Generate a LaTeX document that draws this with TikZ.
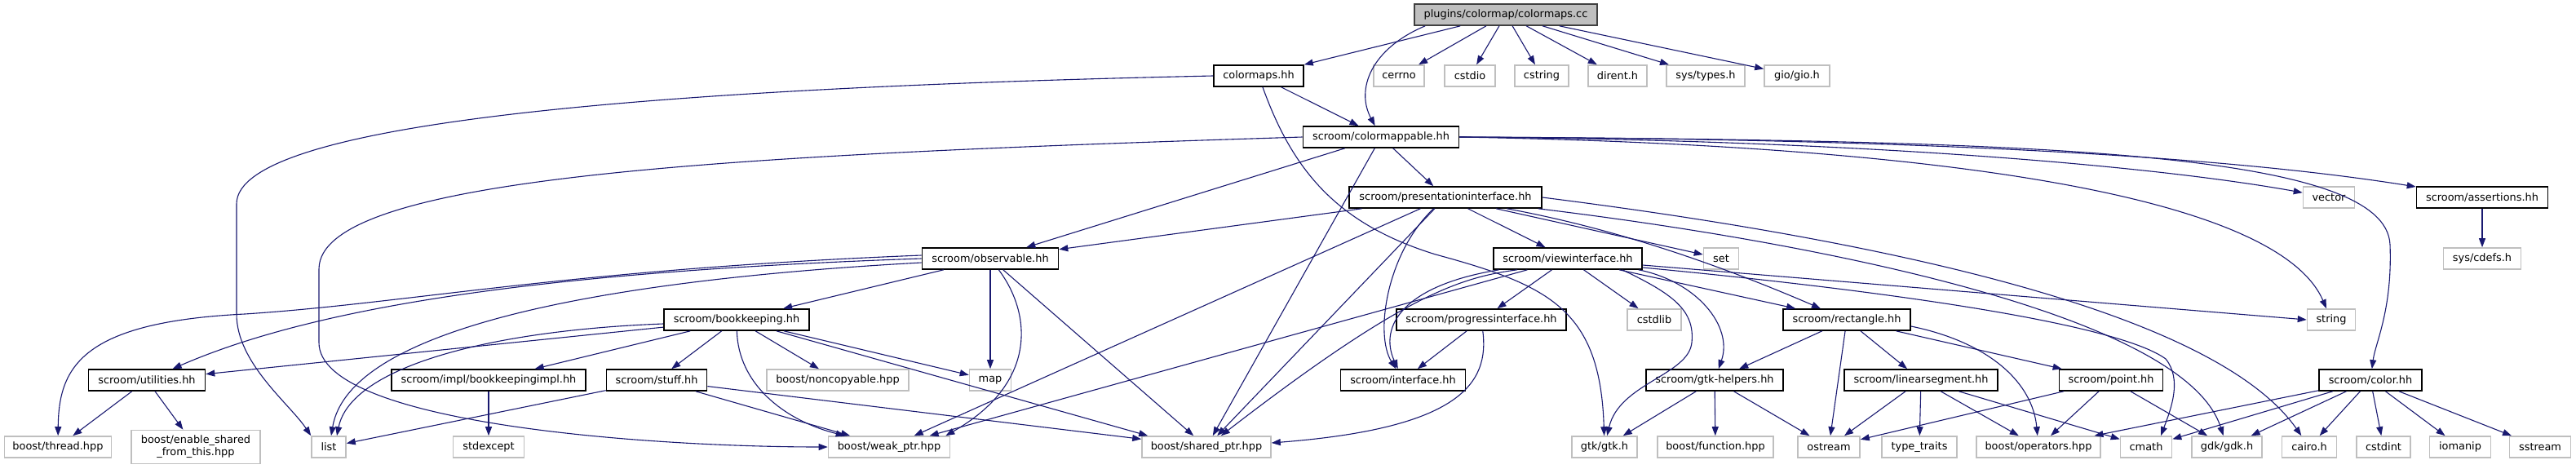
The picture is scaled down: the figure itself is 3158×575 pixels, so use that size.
\documentclass[tikz,border=0pt]{standalone}
\usepackage{fontspec}
\setmainfont{DejaVu Sans}
\usetikzlibrary{arrows.meta}

\definecolor{edgeblue}{HTML}{191970}
\definecolor{extgray}{HTML}{BFBFBF}
\definecolor{rootframe}{HTML}{404040}

\begin{document}
\begin{tikzpicture}[
    x=1pt, y=-1pt,
    hdr/.style={
        rectangle,
        draw=black,
        fill=white,
        line width=1.6pt,
        minimum height=26pt,
        inner sep=0pt,
        align=center,
        font=\fontsize{12.9}{15}\selectfont
    },
    sysinc/.style={
        hdr,
        draw=extgray
    },
    rootbox/.style={
        hdr,
        fill=extgray,
        draw=rootframe
    },
    inc/.style={
        -{Triangle[length=11pt,width=8pt]},
        draw=edgeblue,
        line width=1.1pt
    }
]
\useasboundingbox (0,0) rectangle (3158,575);

% Rows of the include graph
\node[rootbox, minimum width=224pt] (root) at (1846,18) {plugins/colormap/colormaps.cc};

\node[hdr, minimum width=110pt] (cmaps) at (1543,93) {colormaps.hh};
\node[sysinc, minimum width=62pt] (cerrno) at (1715,93) {cerrno};
\node[sysinc, minimum width=62pt] (cstdio) at (1802,93) {cstdio};
\node[sysinc, minimum width=66pt] (cstring) at (1890,93) {cstring};
\node[sysinc, minimum width=72pt] (dirent) at (1983,93) {dirent.h};
\node[sysinc, minimum width=96pt] (systypes) at (2091,93) {sys/types.h};
\node[sysinc, minimum width=80pt] (gio) at (2203,93) {gio/gio.h};

\node[hdr, minimum width=191pt] (cmappable) at (1693,168) {scroom/colormappable.hh};

\node[hdr, minimum width=236pt] (pres) at (1772,242) {scroom/presentationinterface.hh};
\node[sysinc, minimum width=63pt] (vector) at (2855,242) {vector};
\node[hdr, minimum width=161pt] (assert) at (3043,242) {scroom/assertions.hh};

\node[hdr, minimum width=167pt] (observ) at (1214,317) {scroom/observable.hh};
\node[hdr, minimum width=182pt] (view) at (1922,317) {scroom/viewinterface.hh};
\node[sysinc, minimum width=43pt] (set) at (2110,317) {set};
\node[sysinc, minimum width=95pt] (cdefs) at (3043,317) {sys/cdefs.h};

\node[hdr, minimum width=178pt] (bookk) at (903,392) {scroom/bookkeeping.hh};
\node[hdr, minimum width=208pt] (progress) at (1816,392) {scroom/progressinterface.hh};
\node[sysinc, minimum width=66pt] (cstdlib) at (2028,392) {cstdlib};
\node[hdr, minimum width=156pt] (rect) at (2264,392) {scroom/rectangle.hh};
\node[sysinc, minimum width=59pt] (string) at (2858,392) {string};

\node[hdr, minimum width=143pt] (util) at (180,466) {scroom/utilities.hh};
\node[hdr, minimum width=238pt] (bkimpl) at (599,466) {scroom/impl/bookkeepingimpl.hh};
\node[hdr, minimum width=123pt] (stuff) at (805,466) {scroom/stuff.hh};
\node[sysinc, minimum width=174pt] (noncopy) at (1027,466) {boost/noncopyable.hpp};
\node[sysinc, minimum width=51pt] (map) at (1214,466) {map};
\node[hdr, minimum width=153pt] (iface) at (1720,466) {scroom/interface.hh};
\node[hdr, minimum width=168pt] (gtkh) at (2102,466) {scroom/gtk-helpers.hh};
\node[hdr, minimum width=188pt] (linseg) at (2355,466) {scroom/linearsegment.hh};
\node[hdr, minimum width=127pt] (point) at (2588,466) {scroom/point.hh};
\node[hdr, minimum width=126pt] (color) at (2906,466) {scroom/color.hh};

\node[sysinc, minimum width=131pt] (thread) at (71,548) {boost/thread.hpp};
\node[sysinc, minimum width=158pt, minimum height=41pt] (enable) at (240,548) {boost/enable\_shared\\\_from\_this.hpp};
\node[sysinc, minimum width=42pt] (list) at (403,548) {list};
\node[sysinc, minimum width=87pt] (stdexc) at (599,548) {stdexcept};
\node[sysinc, minimum width=149pt] (weak) at (1090,548) {boost/weak\_ptr.hpp};
\node[sysinc, minimum width=158pt] (shared) at (1479,548) {boost/shared\_ptr.hpp};
\node[sysinc, minimum width=80pt] (gtk) at (1967,548) {gtk/gtk.h};
\node[sysinc, minimum width=142pt] (func) at (2103,548) {boost/function.hpp};
\node[sysinc, minimum width=76pt] (ostream) at (2242,548) {ostream};
\node[sysinc, minimum width=92pt] (typetr) at (2353,548) {type\_traits};
\node[sysinc, minimum width=152pt] (ops) at (2499,548) {boost/operators.hpp};
\node[sysinc, minimum width=63pt] (cmath) at (2631,548) {cmath};
\node[sysinc, minimum width=86pt] (gdk) at (2730,548) {gdk/gdk.h};
\node[sysinc, minimum width=67pt] (cairo) at (2831,548) {cairo.h};
\node[sysinc, minimum width=66pt] (cstdint) at (2922,548) {cstdint};
\node[sysinc, minimum width=75pt] (iomanip) at (3016,548) {iomanip};
\node[sysinc, minimum width=75pt] (sstream) at (3114,548) {sstream};

% colormaps.cc
\draw[inc] (root) -- (cmaps);
\draw[inc] ([xshift=14pt]root.south west) .. controls (1680,60) and (1662,110) .. (cmappable);
\draw[inc] (root) -- (cerrno);
\draw[inc] (root) -- (cstdio);
\draw[inc] (root) -- (cstring);
\draw[inc] (root) -- (dirent);
\draw[inc] (root) -- (systypes);
\draw[inc] (root) -- (gio);

% colormaps.hh
\draw[inc] (cmaps) -- (cmappable);
\draw[inc] (cmaps.west) .. controls (800,108) and (290,150) .. (290,250) -- (290,385) .. controls (290,445) and (355,495) .. (list.north west);
\draw[inc] (cmaps) .. controls (1585,210) and (1640,275) .. (1760,312) .. controls (1900,350) and (1962,380) .. (gtk);

% colormappable.hh
\draw[inc] (cmappable) -- (pres);
\draw[inc] (cmappable) -- (observ);
\draw[inc] (cmappable) -- (shared);
\draw[inc] (cmappable.west) .. controls (900,190) and (391,215) .. (391,330) -- (391,420) .. controls (391,520) and (800,548) .. (weak.west);
\draw[inc] (cmappable.east) .. controls (2300,172) and (2650,205) .. (vector);
\draw[inc] (cmappable.east) .. controls (2400,170) and (2750,195) .. (assert);
\draw[inc] (cmappable.east) .. controls (2350,178) and (2790,235) .. (string);
\draw[inc] (cmappable.east) .. controls (2500,172) and (2925,185) .. (2930,300) .. controls (2933,380) and (2912,420) .. (color);

% presentationinterface.hh
\draw[inc] (pres) -- (observ);
\draw[inc] (pres) -- (view);
\draw[inc] (pres) -- (set);
\draw[inc] (pres) .. controls (1990,282) and (2120,330) .. (rect);
\draw[inc] (pres) -- (weak);
\draw[inc] (pres) -- (shared);
\draw[inc] (pres) .. controls (1700,310) and (1685,410) .. (iface);
\draw[inc] (pres.east) .. controls (2350,300) and (2720,390) .. (cairo);
\draw[inc] (pres) .. controls (2250,300) and (2680,390) .. (gdk);

% viewinterface.hh
\draw[inc] (view) -- (progress);
\draw[inc] (view) -- (cstdlib);
\draw[inc] (view) .. controls (1720,350) and (1690,400) .. (iface);
\draw[inc] (view) -- (weak);
\draw[inc] ([xshift=-62pt]view.south) .. controls (1790,340) and (1720,362) .. (shared);
\draw[inc] ([xshift=-25pt]view.south east) .. controls (2050,360) and (2078,380) .. (2074,420) .. controls (2070,460) and (1985,470) .. (gtk);
\draw[inc] (view) -- (rect);
\draw[inc] ([xshift=-5pt]view.south east) .. controls (2080,345) and (2125,400) .. (gtkh);
\draw[inc] ([yshift=-8pt]view.east) -- (string.west);
\draw[inc] ([yshift=-11pt]view.east) .. controls (2350,360) and (2600,400) .. (2655,440) .. controls (2675,465) and (2662,500) .. ([xshift=18pt]cmath.north);

% progressinterface.hh
\draw[inc] (progress) -- (iface);
\draw[inc] (progress) .. controls (1826,470) and (1790,525) .. ([yshift=5pt]shared.east);

% observable.hh
\draw[inc] (observ) -- (bookk);
\draw[inc] ([yshift=4pt]observ.west) .. controls (700,330) and (500,372) .. (300,385) .. controls (100,395) and (72,450) .. (thread);
\draw[inc] (observ.west) .. controls (700,332) and (400,370) .. (util);
\draw[inc] ([yshift=-5pt]observ.west) .. controls (800,340) and (430,390) .. ([xshift=3pt]list.north);
\draw[inc] (observ) -- (map);
\draw[inc] (observ) .. controls (1265,385) and (1272,470) .. ([xshift=-6pt]weak.north east);
\draw[inc] (observ) -- (shared);

% bookkeeping.hh
\draw[inc] (bookk) -- (util);
\draw[inc] ([yshift=-5pt]bookk.west) .. controls (600,405) and (430,450) .. ([xshift=10pt]list.north);
\draw[inc] (bookk) -- (bkimpl);
\draw[inc] (bookk) -- (stuff);
\draw[inc] (bookk) -- (noncopy);
\draw[inc] (bookk) .. controls (905,470) and (960,515) .. (weak);
\draw[inc] (bookk) -- (map);
\draw[inc] (bookk) -- ([xshift=8pt]shared.north west);

% utilities.hh, bookkeepingimpl.hh, stuff.hh
\draw[inc] (util) -- (thread);
\draw[inc] (util) -- (enable);
\draw[inc] (bkimpl) -- (stdexc);
\draw[inc] (stuff) -- (list);
\draw[inc] (stuff) -- (weak);
\draw[inc] (stuff) -- (shared);

% rectangle.hh
\draw[inc] (rect) -- (gtkh);
\draw[inc] (rect) -- (ostream);
\draw[inc] (rect) -- (linseg);
\draw[inc] (rect) -- (point);
\draw[inc] ([yshift=-8pt]rect.east) .. controls (2440,420) and (2492,470) .. (ops);

% gtk-helpers.hh, linearsegment.hh, point.hh
\draw[inc] (gtkh) -- (gtk);
\draw[inc] (gtkh) -- (func);
\draw[inc] (gtkh) -- (ostream);
\draw[inc] (linseg) -- (ostream);
\draw[inc] (linseg) -- (typetr);
\draw[inc] (linseg) -- (ops);
\draw[inc] (linseg) -- (cmath);
\draw[inc] (point) -- (ostream);
\draw[inc] (point) -- (ops);
\draw[inc] (point) -- (gdk);

% color.hh, assertions.hh
\draw[inc] (color) -- (ops);
\draw[inc] (color) -- (cmath);
\draw[inc] (color) -- (gdk);
\draw[inc] (color) -- (cairo);
\draw[inc] (color) -- (cstdint);
\draw[inc] (color) -- (iomanip);
\draw[inc] (color) -- (sstream);
\draw[inc] (assert) -- (cdefs);

\end{tikzpicture}
\end{document}
